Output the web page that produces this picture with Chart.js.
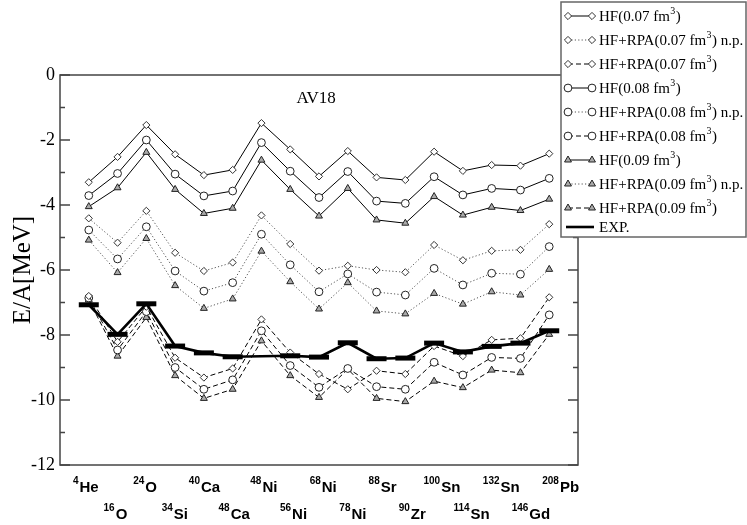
<!DOCTYPE html>
<html>
<head>
<meta charset="utf-8">
<script src="https://cdn.jsdelivr.net/npm/chart.js@4/dist/chart.umd.min.js"></script>
<style>
html,body{margin:0;padding:0;background:#fff;}
#wrap{width:747px;height:525px;}
</style>
</head>
<body>
<div id="wrap"><canvas id="c" width="747" height="525"></canvas></div>
<script>
// ---------- data ----------
const nucleiMass = ['4','16','24','34','40','48','48','56','68','78','88','90','100','114','132','146','208'];
const nucleiSym  = ['He','O','O','Si','Ca','Ca','Ni','Ni','Ni','Ni','Sr','Zr','Sn','Sn','Sn','Gd','Pb'];

const hf07   = [-3.30,-2.52,-1.54,-2.44,-3.08,-2.92,-1.48,-2.29,-3.12,-2.34,-3.15,-3.23,-2.36,-2.95,-2.77,-2.79,-2.42];
const hf08   = [-3.71,-3.03,-2.00,-3.05,-3.72,-3.57,-2.08,-2.96,-3.77,-2.97,-3.88,-3.95,-3.13,-3.69,-3.49,-3.54,-3.18];
const hf09   = [-4.05,-3.47,-2.38,-3.52,-4.26,-4.10,-2.62,-3.52,-4.34,-3.49,-4.46,-4.56,-3.74,-4.31,-4.07,-4.17,-3.82];
const np07   = [-4.41,-5.16,-4.18,-5.47,-6.03,-5.77,-4.32,-5.20,-6.02,-5.87,-6.00,-6.07,-5.23,-5.70,-5.41,-5.38,-4.59];
const np08   = [-4.77,-5.66,-4.67,-6.03,-6.65,-6.39,-4.90,-5.84,-6.67,-6.12,-6.68,-6.77,-5.95,-6.46,-6.10,-6.13,-5.28];
const np09   = [-5.08,-6.08,-5.03,-6.48,-7.18,-6.89,-5.42,-6.36,-7.20,-6.39,-7.26,-7.35,-6.72,-7.05,-6.67,-6.77,-5.98];
const rpa07  = [-6.80,-8.21,-7.13,-8.70,-9.31,-9.03,-7.52,-8.54,-9.20,-9.67,-9.10,-9.20,-8.34,-8.65,-8.15,-8.10,-6.84];
const rpa08  = [-6.86,-8.46,-7.28,-9.00,-9.67,-9.38,-7.87,-8.94,-9.61,-9.03,-9.59,-9.67,-8.84,-9.23,-8.69,-8.72,-7.38];
const rpa09  = [-6.92,-8.65,-7.46,-9.25,-9.95,-9.67,-8.18,-9.25,-9.92,-9.05,-9.95,-10.05,-9.42,-9.62,-9.08,-9.16,-7.98];
const expData= [-7.07,-7.98,-7.04,-8.34,-8.55,-8.67,null,-8.64,-8.68,-8.24,-8.73,-8.71,-8.25,-8.52,-8.35,-8.25,-7.87];

const yTickValues = [0,-2,-4,-6,-8,-10,-12];
const legendLabels = [
  'HF(0.07 fm^3)','HF+RPA(0.07 fm^3) n.p.','HF+RPA(0.07 fm^3)',
  'HF(0.08 fm^3)','HF+RPA(0.08 fm^3) n.p.','HF+RPA(0.08 fm^3)',
  'HF(0.09 fm^3)','HF+RPA(0.09 fm^3) n.p.','HF+RPA(0.09 fm^3)','EXP.'
];
const panelLabel = 'AV18';
const yAxisTitle = 'E/A[MeV]';

// ---------- styles ----------
const SERIF = '"Liberation Serif","Times New Roman",serif';
const SANS = '"Liberation Sans",Arial,sans-serif';
const markers = {
  d:{pointStyle:'rectRot', pointRadius:3.6, pointBackgroundColor:'#fff', pointBorderColor:'#333'},
  c:{pointStyle:'circle', pointRadius:3.9, pointBackgroundColor:'#fff', pointBorderColor:'#222'},
  t:{pointStyle:'triangle', pointRadius:4.0, pointBackgroundColor:'#aaa', pointBorderColor:'#222'}
};
const lineKinds = {
  solid:{borderColor:'#000', borderDash:[]},
  dot:{borderColor:'#555', borderDash:[1.2,2.2]},
  dash:{borderColor:'#000', borderDash:[5,3]}
};
const toXY = arr => arr.map((v,i)=>({x:i,y:v}));
function mk(label, arr, m, l){
  return Object.assign({label, data:toXY(arr), borderWidth:1, pointBorderWidth:1,
    fill:false, tension:0, order:2, _m:m, _l:l}, markers[m], lineKinds[l]);
}
const datasets = [
  mk(legendLabels[0], hf07,'d','solid'),
  mk(legendLabels[1], np07,'d','dot'),
  mk(legendLabels[2], rpa07,'d','dash'),
  mk(legendLabels[3], hf08,'c','solid'),
  mk(legendLabels[4], np08,'c','dot'),
  mk(legendLabels[5], rpa08,'c','dash'),
  mk(legendLabels[6], hf09,'t','solid'),
  mk(legendLabels[7], np09,'t','dot'),
  mk(legendLabels[8], rpa09,'t','dash'),
  {label:legendLabels[9], data:toXY(expData), borderColor:'#000', borderWidth:2.6,
   pointStyle:'line', pointRadius:10, pointBorderWidth:5, pointBorderColor:'#000',
   spanGaps:true, order:0, _exp:true}
];

function drawMarker(ctx, m, x, y){
  const s = markers[m];
  ctx.save();
  ctx.lineWidth = 1;
  ctx.setLineDash([]);
  ctx.fillStyle = s.pointBackgroundColor;
  ctx.strokeStyle = s.pointBorderColor;
  Chart.helpers.drawPoint(ctx, {pointStyle:s.pointStyle, radius:s.pointRadius, borderWidth:1}, x, y);
  ctx.restore();
}

function drawSupText(ctx, text, x, y, font, supFont, supRise){
  const parts = text.split('^');
  let cx = x;
  ctx.textBaseline = 'alphabetic';
  ctx.textAlign = 'left';
  ctx.font = font; ctx.fillText(parts[0], cx, y); cx += ctx.measureText(parts[0]).width;
  if (parts.length > 1){
    const sup = parts[1].charAt(0), rest = parts[1].slice(1);
    ctx.font = supFont; ctx.fillText(sup, cx+0.5, y - supRise); cx += ctx.measureText(sup).width + 1;
    ctx.font = font; ctx.fillText(rest, cx, y);
  }
}

const decor = {
  id:'decor',
  afterDatasetsDraw(chart){
    const ctx = chart.ctx, ca = chart.chartArea;
    const xs = chart.scales.x, ys = chart.scales.y;
    ctx.save();
    // frame
    ctx.strokeStyle = '#444'; ctx.lineWidth = 1.5; ctx.setLineDash([]);
    ctx.strokeRect(ca.left, ca.top, ca.right-ca.left, ca.bottom-ca.top);
    // y ticks major & minor both sides, inward
    for (let v = 0; v >= -12; v -= 1){
      const py = ys.getPixelForValue(v);
      const len = (v % 2 === 0) ? 10 : 5;
      ctx.beginPath();
      ctx.moveTo(ca.left, py); ctx.lineTo(ca.left+len, py);
      ctx.moveTo(ca.right, py); ctx.lineTo(ca.right-len, py);
      ctx.stroke();
    }
    // x labels (two staggered rows)
    ctx.fillStyle = '#000';
    for (let i = 0; i < nucleiSym.length; i++){
      const cxp = xs.getPixelForValue(i) + (0.9*i - 3);
      const base = (i % 2 === 0) ? 492 : 519;
      ctx.font = 'bold 10px '+SANS;
      const wm = ctx.measureText(nucleiMass[i]).width;
      ctx.font = 'bold 15px '+SANS;
      const ws = ctx.measureText(nucleiSym[i]).width;
      const x0 = cxp - (wm + 1 + ws)/2;
      ctx.textAlign = 'left'; ctx.textBaseline = 'alphabetic';
      ctx.font = 'bold 10px '+SANS; ctx.fillText(nucleiMass[i], x0, base - 8);
      ctx.font = 'bold 15px '+SANS; ctx.fillText(nucleiSym[i], x0 + wm + 1, base);
    }
    // panel label
    ctx.font = '17px '+SERIF; ctx.textAlign = 'center'; ctx.textBaseline = 'alphabetic';
    ctx.fillText(panelLabel, xs.getPixelForValue(7.9), ys.getPixelForValue(-0.86));
    // legend
    const L = 561, T = 2, R = 746, B = 237;
    ctx.fillStyle = '#fff';
    ctx.fillRect(L, T, R-L, B-T);
    ctx.strokeStyle = '#666'; ctx.lineWidth = 1.5;
    ctx.strokeRect(L, T, R-L, B-T);
    const rowY = [16,40,64,88,112,136,160,184,208,227];
    datasets.forEach((ds, k) => {
      const y = rowY[k];
      const x1 = 568, x2 = 592;
      ctx.save();
      if (ds._exp){
        ctx.strokeStyle = '#000'; ctx.lineWidth = 2.6; ctx.setLineDash([]);
        ctx.beginPath(); ctx.moveTo(x1-2, y); ctx.lineTo(x2+2, y); ctx.stroke();
      } else {
        ctx.strokeStyle = ds.borderColor; ctx.lineWidth = 1; ctx.setLineDash(ds.borderDash);
        ctx.beginPath(); ctx.moveTo(x1, y); ctx.lineTo(x2, y); ctx.stroke();
        drawMarker(ctx, ds._m, x1, y); drawMarker(ctx, ds._m, x2, y);
      }
      ctx.restore();
      ctx.fillStyle = '#000';
      drawSupText(ctx, ds.label, 599, y+5, '15px '+SERIF, '10px '+SERIF, 7);
    });
    ctx.restore();
  }
};

new Chart(document.getElementById('c'), {
  type:'line',
  data:{datasets},
  options:{
    responsive:false, animation:false, devicePixelRatio:1,
    layout:{padding:{top:75, right:169, bottom:60, left:0}},
    plugins:{legend:{display:false}, tooltip:{enabled:false}},
    scales:{
      x:{type:'linear', min:-1, max:17, display:false},
      y:{type:'linear', min:-12, max:0,
         afterFit(s){ s.width = 60; },
         afterBuildTicks(s){ s.ticks = yTickValues.map(v=>({value:v})); },
         grid:{display:false, drawTicks:false},
         border:{display:false},
         ticks:{padding:5, color:'#000', font:{family:SERIF, size:18}},
         title:{display:true, text:yAxisTitle, color:'#000', font:{family:SERIF, size:25}, padding:{top:8,bottom:0}}
      }
    }
  },
  plugins:[decor]
});
</script>
</body>
</html>
